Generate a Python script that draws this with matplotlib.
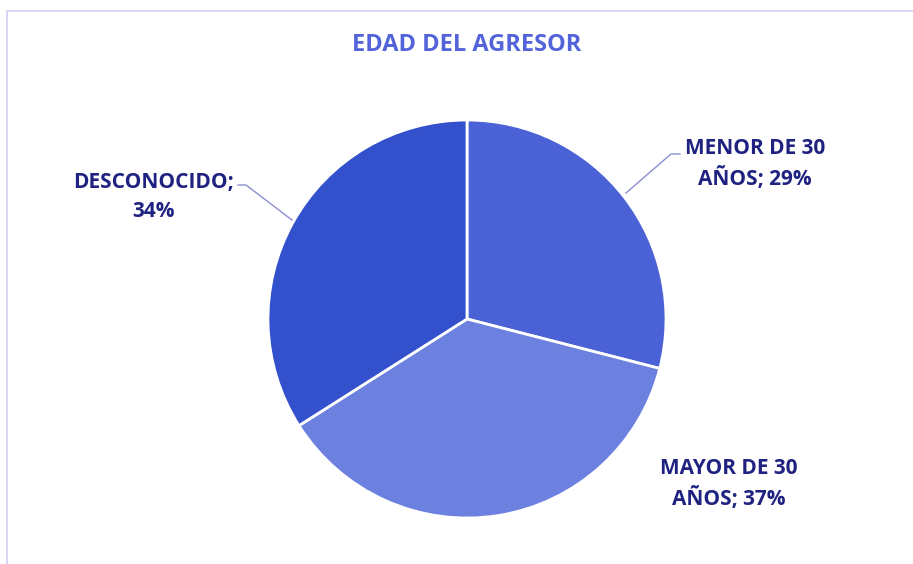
import matplotlib
matplotlib.use("Agg")
import matplotlib.pyplot as plt
from matplotlib.patches import Rectangle

categories = ["MENOR DE 30\nAÑOS", "MAYOR DE 30\nAÑOS", "DESCONOCIDO"]
values = [29, 37, 34]
colors = ["#4a62d6", "#6c80e0", "#3350cd"]

W, H = 913, 564
fig = plt.figure(figsize=(W/100, H/100), dpi=100)
fig.patch.set_facecolor("white")

# border (only top and left visible)
fig.add_artist(Rectangle((7/W, -0.1), 1.2, 1.1 - 11/H, transform=fig.transFigure,
                         fill=False, edgecolor="#cfcff2", linewidth=1.2))

cx, cy, r = 467, 319, 199
ax = fig.add_axes([(cx - r)/W, (H - cy - r)/H, 2*r/W, 2*r/H])
ax.pie(values, colors=colors, startangle=90, counterclock=False, radius=1,
       wedgeprops=dict(edgecolor="white", linewidth=2))
ax.set_xlim(-1, 1); ax.set_ylim(-1, 1)
ax.set_aspect("auto")
ax.axis("off")

def px(x, y):
    return x / W, 1 - y / H

font = dict(family=["Open Sans", "DejaVu Sans"], fontweight="bold", color="#1f2280", fontsize=15)

fig.text(*px(467, 45), "EDAD DEL AGRESOR", ha="center", va="center",
         family=["Open Sans", "DejaVu Sans"], fontweight="bold", color="#5364db", fontsize=17)

fig.text(*px(755, 164), f"{categories[0]}; {values[0]}%", ha="center", va="center",
         linespacing=1.5, **font)
fig.text(*px(729, 484), f"{categories[1]}; {values[1]}%", ha="center", va="center",
         linespacing=1.5, **font)
fig.text(*px(153, 197), f"{categories[2]};\n{values[2]}%", ha="center", va="center",
         linespacing=1.5, **font)

# leader lines
def line(pts):
    xs = [p[0]/W for p in pts]; ys = [1 - p[1]/H for p in pts]
    fig.add_artist(plt.Line2D(xs, ys, transform=fig.transFigure, color="#8a8fd0", linewidth=1))

line([(626, 193), (671, 154), (680, 154)])
line([(238, 185), (246, 185), (292, 220)])

fig.savefig("out.png", dpi=100, facecolor="white")
